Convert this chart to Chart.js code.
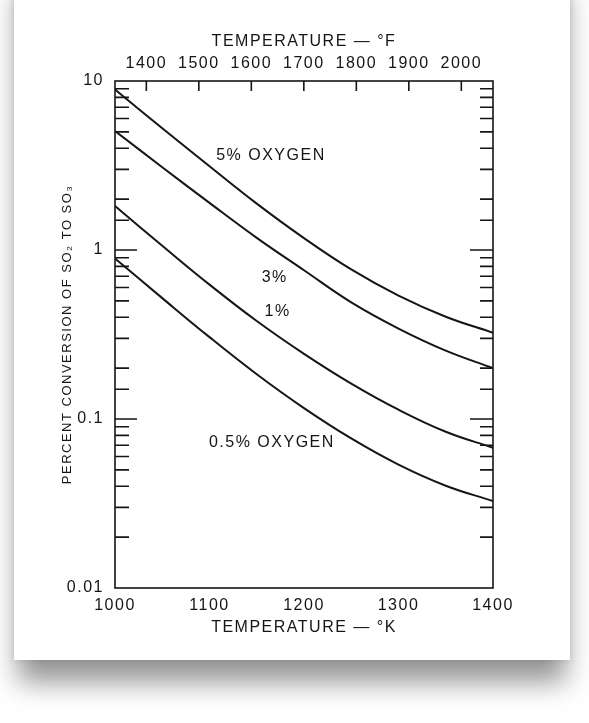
<!DOCTYPE html>
<html>
<head>
<meta charset="utf-8">
<script src="https://cdn.jsdelivr.net/npm/chart.js@4.4.1/dist/chart.umd.min.js"></script>
<style>
  html, body { margin: 0; padding: 0; background: #fff; width: 589px; height: 723px; overflow: hidden; }
  #card { position: absolute; left: 14px; top: -40px; width: 556px; height: 700px; background: #fff;
          box-shadow: 0 26px 26px -4px rgba(0,0,0,0.42), 0 0 6px rgba(0,0,0,0.12); }
  #graph { position: absolute; left: 0; top: 0; }
</style>
</head>
<body>
<div id="card"></div>
<canvas id="graph" width="589" height="723"></canvas>
<script>
// temperature, kelvin
const temps = [1000, 1050, 1100, 1150, 1200, 1250, 1300, 1350, 1400];
// percent conversion of SO2 to SO3
const oxy5  = [8.91, 5.25, 3.13, 1.88, 1.175, 0.767, 0.537, 0.403, 0.324];
const oxy3  = [5.06, 3.09, 1.90, 1.18, 0.759, 0.490, 0.343, 0.254, 0.20];
const oxy1  = [1.82, 1.06, 0.624, 0.380, 0.243, 0.162, 0.1135, 0.0841, 0.0676];
const oxy05 = [0.891, 0.519, 0.305, 0.184, 0.116, 0.0767, 0.0537, 0.0403, 0.0327];
const curveNames = ['5% OXYGEN', '3%', '1%', '0.5% OXYGEN'];
const kTicks = [1000, 1100, 1200, 1300, 1400];
const fTicks = [1400, 1500, 1600, 1700, 1800, 1900, 2000];
const yDecades = [0.01, 0.1, 1, 10];
const yLabels = ['0.01', '0.1', '1', '10'];

const kToF = k => (k - 273.15) * 9 / 5 + 32;
const INK = '#151515';
Chart.defaults.font.family = "'Liberation Sans', Arial, sans-serif";
Chart.defaults.color = INK;

// where the curve names sit (kelvin, percent)
const labelAt = [[1165, 3.6], [1169, 0.69], [1172, 0.43], [1166, 0.073]];

const frame = {
  id: 'frame',
  beforeUpdate(chart) { chart.ctx.letterSpacing = '1.5px'; },
  beforeDraw(chart) { chart.ctx.letterSpacing = '1.5px'; },
  afterDatasetsDraw(chart) {
    const { ctx, chartArea: a, scales } = chart;
    ctx.save();
    ctx.strokeStyle = INK;
    ctx.lineWidth = 1.6;
    ctx.strokeRect(a.left, a.top, a.right - a.left, a.bottom - a.top);
    ctx.beginPath();
    scales.y.ticks.forEach(t => {
      const py = scales.y.getPixelForValue(t.value);
      if (py <= a.top + 1 || py >= a.bottom - 1) return;
      const e = Math.log10(t.value);
      const major = Math.abs(e - Math.round(e)) < 1e-6;
      ctx.moveTo(a.left, py); ctx.lineTo(a.left + (major ? 22 : 14), py);
      ctx.moveTo(a.right, py); ctx.lineTo(a.right - (major ? 23 : 13), py);
    });
    scales.xF.ticks.forEach(t => {
      const px = scales.xF.getPixelForValue(t.value);
      ctx.moveTo(px, a.top); ctx.lineTo(px, a.top + 10);
    });
    ctx.stroke();

    ctx.fillStyle = INK;
    ctx.font = "16px 'Liberation Sans', Arial, sans-serif";
    ctx.textAlign = 'center';
    ctx.textBaseline = 'middle';
    curveNames.forEach((name, i) => {
      ctx.fillText(name, scales.x.getPixelForValue(labelAt[i][0]), scales.y.getPixelForValue(labelAt[i][1]));
    });
    ctx.restore();
  }
};

new Chart(document.getElementById('graph'), {
  type: 'line',
  data: {
    datasets: [oxy5, oxy3, oxy1, oxy05].map((vals, i) => ({
      label: curveNames[i],
      data: temps.map((t, j) => ({ x: t, y: vals[j] })),
      borderColor: INK,
      borderWidth: 2,
      pointRadius: 0,
      fill: false,
      tension: 0.4
    }))
  },
  options: {
    responsive: false,
    animation: false,
    events: [],
    layout: { padding: { left: 0, right: 96, top: 0, bottom: 0 } },
    plugins: { legend: { display: false }, tooltip: { enabled: false } },
    scales: {
      x: {
        type: 'linear', position: 'bottom', min: 1000, max: 1400,
        afterBuildTicks: s => { s.ticks = kTicks.map(v => ({ value: v })); },
        afterFit: s => { s.height = 135; },
        grid: { display: false }, border: { display: false },
        ticks: { padding: 0, font: { size: 16 }, maxRotation: 0, callback: v => String(v) },
        title: { display: true, text: 'TEMPERATURE — °K', font: { size: 16 }, padding: { top: 0, bottom: 86 } }
      },
      xF: {
        type: 'linear', position: 'top', min: kToF(1000), max: kToF(1400),
        afterBuildTicks: s => { s.ticks = fTicks.map(v => ({ value: v })); },
        afterFit: s => { s.height = 81; },
        grid: { display: false }, border: { display: false },
        ticks: { padding: 0, font: { size: 16 }, maxRotation: 0, callback: v => String(v) },
        title: { display: true, text: 'TEMPERATURE — °F', font: { size: 16 }, padding: { top: 32, bottom: 0 } }
      },
      y: {
        type: 'logarithmic', position: 'left', min: 0.01, max: 10,
        afterFit: s => { s.width = 115; },
        grid: { display: false }, border: { display: false },
        ticks: {
          autoSkip: false, padding: 3, font: { size: 16 },
          callback: v => {
            const i = yDecades.findIndex(d => Math.abs(v - d) / d < 1e-6);
            return i < 0 ? '' : yLabels[i];
          }
        },
        title: { display: true, text: 'PERCENT CONVERSION OF SO₂ TO SO₃', font: { size: 13 }, padding: { top: 60, bottom: 0 } }
      }
    }
  },
  plugins: [frame]
});
</script>
</body>
</html>
